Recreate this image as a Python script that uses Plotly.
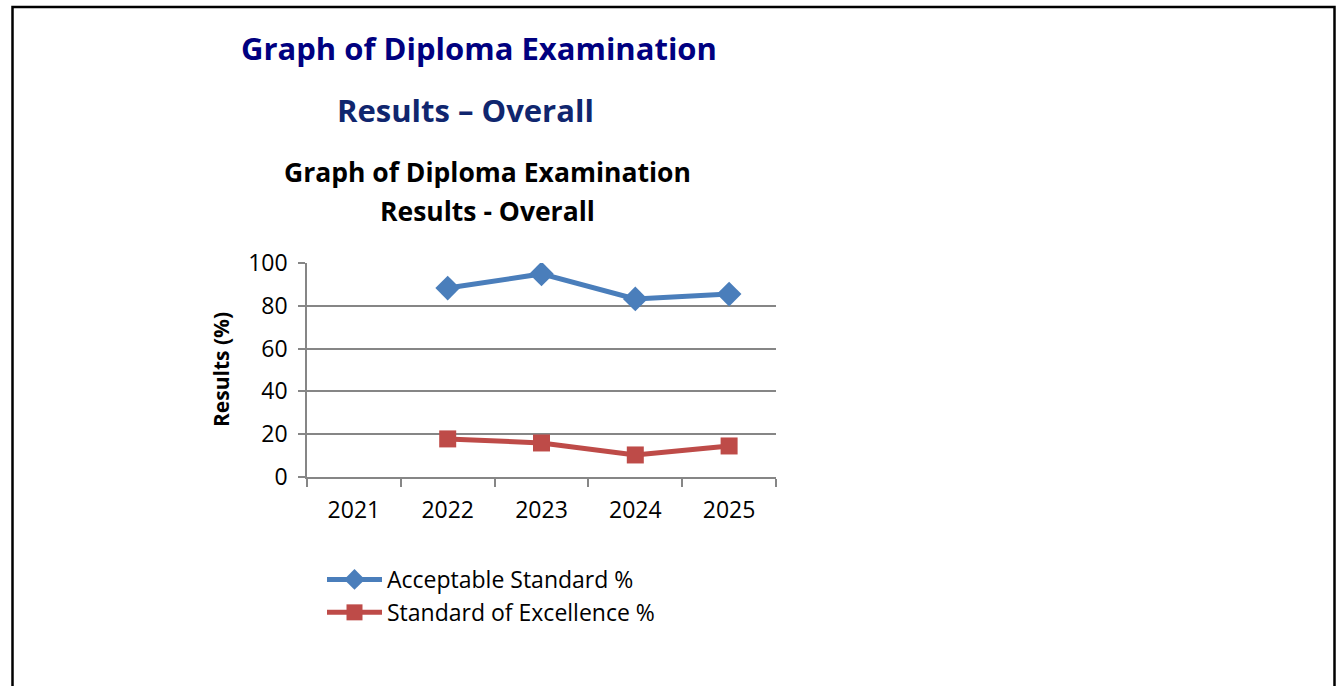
import plotly.graph_objects as go

years = ["2021", "2022", "2023", "2024", "2025"]
acceptable = [None, 88.3, 94.9, 83.2, 85.5]
excellence = [None, 17.8, 15.9, 10.3, 14.5]
y_ticks = [0, 20, 40, 60, 80, 100]

W, H = 1337, 686
L, R, T, B = 307, 776, 263, 477
pw, ph = R - L, B - T


def px(x):
    return (x - L) / pw


def py(y):
    return (B - y) / ph


FONT = "Open Sans"

fig = go.Figure()
fig.add_trace(go.Scatter(
    x=years, y=acceptable, name="Acceptable Standard %", mode="lines+markers",
    line=dict(color="#4A7EBB", width=5),
    marker=dict(symbol="diamond", size=19, color="#4A7EBB"),
))
fig.add_trace(go.Scatter(
    x=years, y=excellence, name="Standard of Excellence %", mode="lines+markers",
    line=dict(color="#BE4B48", width=5),
    marker=dict(symbol="square", size=17, color="#BE4B48"),
))

fig.update_layout(
    width=W, height=H, autosize=False,
    margin=dict(l=L, r=W - R, t=T, b=H - B, pad=0),
    paper_bgcolor="white", plot_bgcolor="white",
    font=dict(family=FONT, size=23, color="black"),
    showlegend=True,
    legend=dict(x=px(322), y=py(558), xanchor="left", yanchor="top",
                font=dict(size=23, family=FONT, color="black"),
                bgcolor="rgba(0,0,0,0)", itemwidth=55, tracegroupgap=0),
    xaxis=dict(type="category", categoryorder="array", categoryarray=years,
               range=[-0.5, 4.5], tickson="boundaries", ticks="outside",
               ticklen=8, tickcolor="#868686", tickwidth=1.5,
               showline=True, linecolor="#868686", linewidth=1.5,
               showgrid=False, tickfont=dict(size=23), ticklabelstandoff=12,
               fixedrange=True),
    yaxis=dict(range=[0, 100], tickvals=y_ticks, ticks="outside", ticklen=7,
               tickcolor="#868686", tickwidth=1.5, showline=True,
               linecolor="#868686", linewidth=1.5, showgrid=True,
               gridcolor="#868686", gridwidth=1.5, zeroline=False,
               tickfont=dict(size=23), ticklabelstandoff=6, fixedrange=True),
)

annos = [
    dict(text="<b>Graph of Diploma Examination</b>", x=px(479), y=py(48),
         font=dict(size=31, color="#000080", family=FONT)),
    dict(text="<b>Results \u2013 Overall</b>", x=px(465), y=py(110),
         font=dict(size=31, color="#10266E", family=FONT)),
    dict(text="<b>Graph of Diploma Examination</b>", x=px(487), y=py(172),
         font=dict(size=26.5, color="black", family=FONT)),
    dict(text="<b>Results - Overall</b>", x=px(487), y=py(211),
         font=dict(size=26.5, color="black", family=FONT)),
    dict(text="<b>Results (%)</b>", x=px(221), y=py(370), textangle=-90,
         font=dict(size=21, color="black", family=FONT)),
]
for a in annos:
    fig.add_annotation(xref="paper", yref="paper", showarrow=False,
                       xanchor="center", yanchor="middle", **a)

fig.add_shape(type="rect", xref="paper", yref="paper",
              x0=px(12.5), x1=px(1334.5), y0=py(700), y1=py(7),
              line=dict(color="black", width=2.5), fillcolor="rgba(0,0,0,0)",
              layer="above")

fig.write_html("out.html", config={"displayModeBar": False},
               post_script="document.body.style.margin='0';")
